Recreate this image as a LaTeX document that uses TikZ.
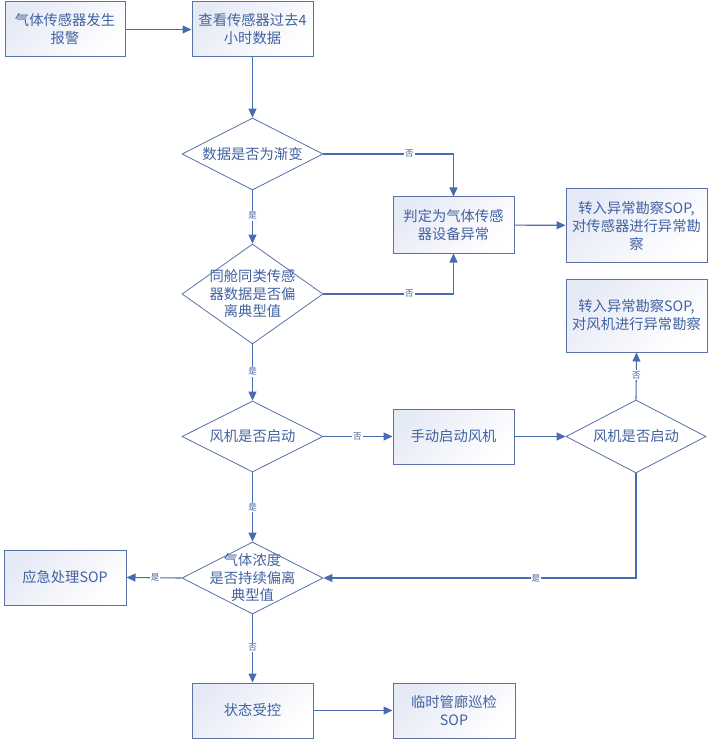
\documentclass[tikz,border=0pt]{standalone}
\usepackage{fontspec}
\setmainfont{Noto Sans CJK SC}
\usetikzlibrary{shapes.geometric,arrows.meta}
\definecolor{txt}{RGB}{66,98,160}
\definecolor{ln}{RGB}{72,108,178}
\definecolor{bd}{RGB}{90,114,166}
\definecolor{sh}{RGB}{230,234,246}
\tikzset{
  box/.style={draw=bd, line width=1pt, shading=axis, top color=sh, bottom color=white, shading angle=45,
    text=txt, align=center, inner sep=0pt, font=\fontsize{14.3}{18}\selectfont},
  dia/.style={draw=bd, line width=0.8pt, shape=diamond, fill=white, inner sep=0pt},
  dtext/.style={text=txt, align=center, inner sep=0pt, font=\fontsize{14.3}{17.5}\selectfont},
  conn/.style={draw=ln, line width=1.1pt, -{Triangle[length=9pt,width=8pt]}},
  lbl/.style={fill=white, text=txt, inner sep=1pt, font=\fontsize{8.5}{9}\selectfont}
}
\begin{document}
\begin{tikzpicture}[x=1pt,y=-1pt]
\useasboundingbox[fill=white] (0,0) rectangle (712,743);
% boxes
\node[box, minimum width=120pt, minimum height=55pt] (b1) at (65,29.5) {气体传感器发生\\报警};
\node[box, minimum width=121pt, minimum height=55pt] (b2) at (252.5,29.5) {查看传感器过去4\\小时数据};
\node[box, minimum width=121pt, minimum height=56pt] (b3) at (453.5,225) {判定为气体传感\\器设备异常};
\node[box, minimum width=141pt, minimum height=73pt] (b4) at (636.5,225.5) {转入异常勘察SOP,\\对传感器进行异常勘\\察};
\node[box, minimum width=141pt, minimum height=73pt] (b5) at (636.5,315.5) {转入异常勘察SOP,\\对风机进行异常勘察};
\node[box, minimum width=121pt, minimum height=55pt] (b6) at (453.5,436.5) {手动启动风机};
\node[box, minimum width=122pt, minimum height=55pt] (b7) at (65,577.5) {应急处理SOP};
\node[box, minimum width=121pt, minimum height=55pt] (b8) at (252.5,710.5) {状态受控};
\node[box, minimum width=122pt, minimum height=55pt] (b9) at (454,710.5) {临时管廊巡检\\SOP};
% diamonds
\node[dia, minimum width=141pt, minimum height=72pt] (d1) at (252.5,154) {};
\node[dtext] (d1t) at (d1) {数据是否为渐变};
\node[dia, minimum width=141pt, minimum height=100pt] (d2) at (252.5,294) {};
\node[dtext] (d2t) at (d2) {同舱同类传感\\器数据是否偏\\离典型值};
\node[dia, minimum width=141pt, minimum height=71pt] (d3) at (252.5,436.5) {};
\node[dtext] (d3t) at (d3) {风机是否启动};
\node[dia, minimum width=140pt, minimum height=73pt] (d4) at (636,436.5) {};
\node[dtext] (d4t) at (d4) {风机是否启动};
\node[dia, minimum width=141pt, minimum height=72pt] (d5) at (252.5,578) {};
\node[dtext] (d5t) at (d5) {气体浓度\\是否持续偏离\\典型值};
% connectors
\draw[conn] (b1) -- (b2);
\draw[conn] (b2) -- (d1);
\draw[conn] (d1.east) -| node[lbl, pos=0.33] {否} (b3.north);
\draw[conn] (d1.south) -- node[lbl, pos=0.48] {是} (d2.north);
\draw[conn] (d2.east) -| node[lbl, pos=0.33] {否} (b3.south);
\draw[conn] (b3) -- (b4);
\draw[conn] (d2.south) -- node[lbl, pos=0.49] {是} (d3.north);
\draw[conn] (d3.east) -- node[lbl, pos=0.49] {否} (b6.west);
\draw[conn] (b6) -- (d4.west);
\draw[conn] (d4.north) -- node[lbl, pos=0.52] {否} (b5.south);
\draw[conn] (d4.south) |- node[lbl, pos=0.66] {是} (d5.east);
\draw[conn] (d3.south) -- node[lbl, pos=0.51] {是} (d5.north);
\draw[conn] (d5.west) -- node[lbl, pos=0.48] {是} (b7.east);
\draw[conn] (d5.south) -- node[lbl, pos=0.49] {否} (b8.north);
\draw[conn] (b8) -- (b9);
\end{tikzpicture}
\end{document}
